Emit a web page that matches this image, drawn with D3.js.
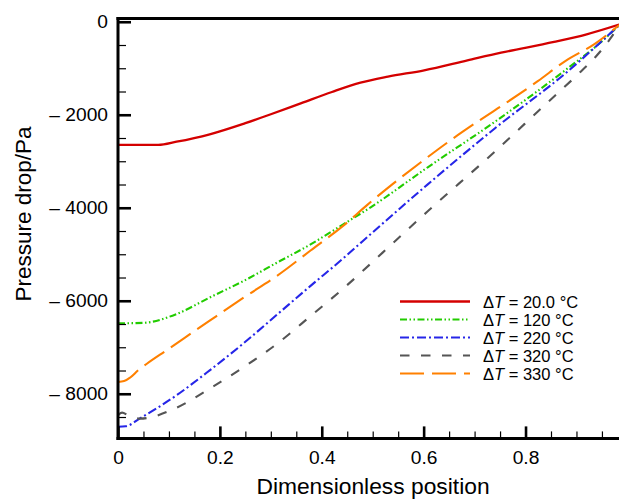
<!DOCTYPE html>
<html>
<head>
<meta charset="utf-8">
<script src="https://cdn.jsdelivr.net/npm/d3@7"></script>
<style>
  html, body { margin: 0; padding: 0; background: #fff; }
  svg { display: block; font-family: "Liberation Sans", Arial, Helvetica, sans-serif; }
</style>
</head>
<body>
<svg id="chart" width="619" height="499"></svg>
<script>
// Pressure drop along the channel for five temperature differences
const deltaT = ["20.0", "120", "220", "320", "330"];
const colors = ["#d40000", "#22cc00", "#2626e8", "#555555", "#ff8000"];
const dashes = [null, "7,2.5,1.5,2.5,1.5,2.5", "9,3,2,3", "9.5,11.5", "24,8"];

const posRed    = [0, 0.079, 0.115, 0.18, 0.25, 0.30, 0.36, 0.42, 0.476, 0.53, 0.601, 0.686, 0.752, 0.856, 0.92, 0.984];
const dropRed   = [-2648, -2648, -2580, -2420, -2180, -1990, -1750, -1510, -1310, -1180, -1044, -830, -665, -435, -270, -60];

const posGreen  = [0, 0.05, 0.115, 0.18, 0.247, 0.312, 0.378, 0.443, 0.496, 0.608, 0.739, 0.883, 0.95, 0.984];
const dropGreen = [-6486, -6475, -6285, -5930, -5572, -5181, -4787, -4350, -3990, -3130, -2157, -1000, -420, -70];

const posBlue   = [0, 0.015, 0.043, 0.115, 0.18, 0.247, 0.312, 0.378, 0.443, 0.476, 0.608, 0.739, 0.883, 0.984];
const dropBlue  = [-8710, -8700, -8530, -8032, -7497, -6910, -6300, -5680, -5080, -4760, -3497, -2300, -1066, -70];

const posGray   = [0, 0.008, 0.02, 0.043, 0.115, 0.18, 0.247, 0.312, 0.378, 0.443, 0.52, 0.608, 0.739, 0.834, 0.903, 0.936, 0.966, 0.984];
const dropGray  = [-8460, -8405, -8465, -8535, -8300, -7888, -7426, -6926, -6330, -5730, -4960, -4075, -2800, -1830, -1129, -774, -370, -70];

const posOrange = [0, 0.012, 0.024, 0.04, 0.056, 0.096, 0.18, 0.247, 0.312, 0.378, 0.443, 0.49, 0.539, 0.594, 0.651, 0.707, 0.765, 0.824, 0.878, 0.936, 0.984];
const dropOrange= [-7748, -7728, -7650, -7490, -7360, -7060, -6428, -5930, -5465, -4920, -4380, -3932, -3491, -3027, -2563, -2140, -1722, -1279, -845, -475, -70];

const seriesPos  = [posRed, posGreen, posBlue, posGray, posOrange];
const seriesDrop = [dropRed, dropGreen, dropBlue, dropGray, dropOrange];

const xMajor = [0, 0.2, 0.4, 0.6, 0.8];
const xMinor = d3.range(0, 0.98, 0.05);
const yMajor = [0, -2000, -4000, -6000, -8000];
const yMinor = d3.range(0, -8960, -500);

const svg = d3.select("#chart");
const plotL = 118, plotR = 619, plotT = 18.5, plotB = 438.4;

const x = d3.scaleLinear().domain([0, 0.9835]).range([plotL, plotR]);
const y = d3.scaleLinear().domain([-8960, 70]).range([plotB, plotT]);

svg.append("rect").attr("width", 619).attr("height", 499).attr("fill", "#fff");

svg.append("defs").append("clipPath").attr("id", "plot-clip")
  .append("rect").attr("x", plotL).attr("y", plotT).attr("width", plotR - plotL).attr("height", plotB - plotT);

// curves
const line = d3.line().x(d => x(d[0])).y(d => y(d[1])).curve(d3.curveMonotoneX);
const curves = svg.append("g").attr("clip-path", "url(#plot-clip)");
seriesPos.forEach((pos, i) => {
  const pts = pos.map((p, j) => [p, seriesDrop[i][j]]);
  curves.append("path")
    .attr("d", line(pts))
    .attr("fill", "none")
    .attr("stroke", colors[i])
    .attr("stroke-width", i === 0 ? 2.3 : 2.1)
    .attr("stroke-dasharray", dashes[i]);
});

// axes
const fmtY = v => v === 0 ? "0" : "\u2013 " + Math.abs(v);
const yAxis = svg.append("g").attr("transform", `translate(${plotL},0)`)
  .call(d3.axisLeft(y).tickValues(yMajor).tickSize(-13).tickPadding(10).tickFormat(fmtY));
const yMinorAxis = svg.append("g").attr("transform", `translate(${plotL},0)`)
  .call(d3.axisLeft(y).tickValues(yMinor.filter(v => v % 2000 !== 0)).tickSize(-8).tickFormat(""));
const xAxis = svg.append("g").attr("transform", `translate(0,${plotB})`)
  .call(d3.axisBottom(x).tickValues(xMajor).tickSize(-12).tickPadding(11).tickFormat(d => d === 0 ? "0" : d3.format(".1f")(d)));
const xMinorAxis = svg.append("g").attr("transform", `translate(0,${plotB})`)
  .call(d3.axisBottom(x).tickValues(xMinor.filter((v, i) => i % 4 !== 0)).tickSize(-7).tickFormat(""));

[yAxis, yMinorAxis, xAxis, xMinorAxis].forEach(g => g.select(".domain").remove());
[yAxis, xAxis].forEach(g => {
  g.selectAll(".tick line").attr("stroke", "#000").attr("stroke-width", 2.6);
  g.selectAll(".tick text").attr("font-size", 19.2).attr("fill", "#000")
    .attr("font-family", "'Liberation Sans', Arial, sans-serif");
});
[yMinorAxis, xMinorAxis].forEach(g => g.selectAll(".tick line").attr("stroke", "#000").attr("stroke-width", 1.2));
xAxis.selectAll(".tick text").attr("dy", "0.75em");

// frame
const frame = svg.append("g").attr("stroke", "#000").attr("stroke-width", 3).attr("stroke-linecap", "square");
frame.append("line").attr("x1", plotL).attr("x2", plotL).attr("y1", plotT).attr("y2", plotB);
frame.append("line").attr("x1", plotL).attr("x2", plotR).attr("y1", plotB).attr("y2", plotB);
frame.append("line").attr("x1", plotL).attr("x2", plotR).attr("y1", plotT).attr("y2", plotT);

// titles
svg.append("text")
  .attr("x", 373).attr("y", 493.5)
  .attr("text-anchor", "middle").attr("font-size", 22.8).attr("fill", "#000")
  .text("Dimensionless position");
svg.append("text")
  .attr("transform", "translate(31,214) rotate(-90)")
  .attr("text-anchor", "middle").attr("font-size", 22.5).attr("fill", "#000")
  .text("Pressure drop/Pa");

// legend
const legend = svg.append("g");
deltaT.forEach((t, i) => {
  const ly = 301.5 + i * 18;
  legend.append("line")
    .attr("x1", 400).attr("x2", 470).attr("y1", ly).attr("y2", ly)
    .attr("stroke", colors[i]).attr("stroke-width", i === 0 ? 2.3 : 2.1)
    .attr("stroke-dasharray", dashes[i]);
  const txt = legend.append("text").attr("x", 483).attr("y", ly + 6)
    .attr("font-size", 16.5).attr("fill", "#000");
  txt.append("tspan").text("\u0394");
  txt.append("tspan").attr("font-style", "italic").text("T");
  txt.append("tspan").text(" = " + t + " \u00B0C");
});
</script>
</body>
</html>
